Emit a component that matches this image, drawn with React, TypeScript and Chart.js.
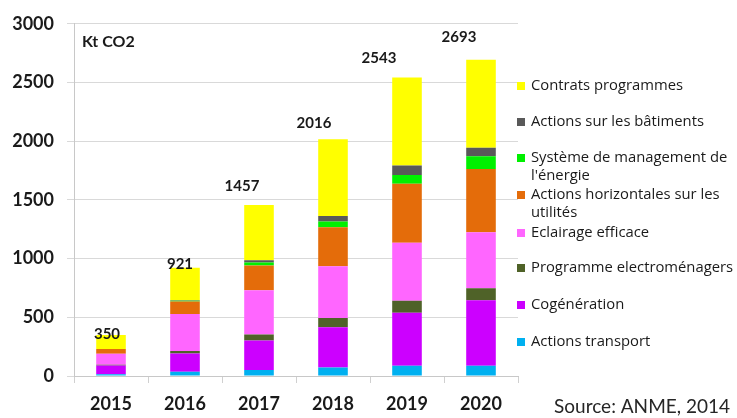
import React, { useEffect, useRef } from "react";
import { Chart, registerables } from "chart.js";

Chart.register(...registerables);

const categories = ["2015", "2016", "2017", "2018", "2019", "2020"];
const actionsTransport = [15, 37, 51, 73, 87, 87];
const cogeneration = [75, 154, 252, 343, 452, 559];
const programmeElectromenagers = [5, 22, 51, 78, 101, 101];
const eclairageEfficace = [95, 315, 376, 441, 495, 478];
const actionsHorizontales = [40, 107, 211, 332, 503, 539];
const systemeManagement = [0, 5, 25, 48, 75, 107];
const actionsBatiments = [0, 5, 20, 47, 79, 73];
const contratsProgrammes = [120, 276, 471, 654, 751, 749];
const totals = [350, 921, 1457, 2016, 2543, 2693];
const yTicks = [0, 500, 1000, 1500, 2000, 2500, 3000];

// pixel offsets for total labels (dx, dy from bar top center)
const labelOffsets: [number, number][] = [
  [-4, 0],
  [-5, -3],
  [-17, -18],
  [-19, -16],
  [-28, -19],
  [-22, -22],
];

const series = [
  { label: "Actions transport", data: actionsTransport, color: "#00B0F0", lines: ["Actions transport"] },
  { label: "Cogénération", data: cogeneration, color: "#CC00FF", lines: ["Cogénération"] },
  { label: "Programme electroménagers", data: programmeElectromenagers, color: "#4F6228", lines: ["Programme electroménagers"] },
  { label: "Eclairage efficace", data: eclairageEfficace, color: "#FF66FF", lines: ["Eclairage efficace"] },
  { label: "Actions horizontales sur les utilités", data: actionsHorizontales, color: "#E46C0A", lines: ["Actions horizontales sur les", "utilités"] },
  { label: "Système de management de l'énergie", data: systemeManagement, color: "#00F000", lines: ["Système de management de", "l'énergie"] },
  { label: "Actions sur les bâtiments", data: actionsBatiments, color: "#595959", lines: ["Actions sur les bâtiments"] },
  { label: "Contrats programmes", data: contratsProgrammes, color: "#FFFF00", lines: ["Contrats programmes"] },
];

// legend y positions (first line center), top to bottom
const legendY = [86, 122, 158, 195, 233, 268, 305, 342];

const FONT = "Lato, 'Open Sans', sans-serif";
const LEGEND_FONT = "'Open Sans', Lato, sans-serif";

const overlayPlugin = {
  id: "overlay",
  afterDatasetsDraw(chart: any) {
    const ctx = chart.ctx;
    const x = chart.scales.x;
    const y = chart.scales.y;
    ctx.save();
    // totals
    ctx.font = `bold 15px ${FONT}`;
    ctx.fillStyle = "#1a1a1a";
    ctx.textAlign = "center";
    ctx.textBaseline = "bottom";
    totals.forEach((t, i) => {
      const [dx, dy] = labelOffsets[i];
      ctx.fillText(String(t), x.getPixelForValue(i) + dx, y.getPixelForValue(t) + dy + 7);
    });
    // unit
    ctx.font = `bold 16px ${FONT}`;
    ctx.textAlign = "left";
    ctx.textBaseline = "middle";
    ctx.fillText("Kt CO2", chart.chartArea.left + 8, 42);
    // legend
    const items = [...series].reverse();
    ctx.font = `14.8px ${LEGEND_FONT}`;
    items.forEach((s, k) => {
      const yy = legendY[k];
      ctx.fillStyle = s.color;
      ctx.fillRect(517, yy - 4, 8, 8);
      ctx.fillStyle = "#1a1a1a";
      s.lines.forEach((ln: string, j: number) => {
        ctx.fillText(ln, 531, yy + j * 18);
      });
    });
    // source
    ctx.font = `19px ${FONT}`;
    ctx.fillStyle = "#262626";
    ctx.textAlign = "right";
    ctx.fillText("Source: ANME, 2014", 730, 407);
    ctx.restore();
  },
};

export default function App() {
  const ref = useRef<HTMLCanvasElement>(null);
  useEffect(() => {
    if (!ref.current) return;
    const chart = new Chart(ref.current, {
      type: "bar",
      data: {
        labels: categories,
        datasets: series.map((s) => ({
          label: s.label,
          data: s.data,
          backgroundColor: s.color,
          borderWidth: 0,
          categoryPercentage: 0.8,
          barPercentage: 0.5,
        })),
      },
      options: {
        animation: false,
        responsive: false,
        maintainAspectRatio: false,
        layout: { padding: { left: 0, top: 20, right: 219, bottom: 0 } },
        plugins: { legend: { display: false }, tooltip: { enabled: false } },
        scales: {
          x: {
            stacked: true,
            afterFit: (s: any) => { s.height = 42; },
            grid: { drawOnChartArea: false, tickLength: 7, color: "#d0d0d0", offset: true },
            border: { color: "#c8c8c8" },
            ticks: { font: { family: FONT, size: 18, weight: "bold" }, color: "#1a1a1a", padding: 10 },
          },
          y: {
            stacked: true,
            min: 0,
            max: 3000,
            afterFit: (s: any) => { s.width = 74; },
            afterBuildTicks: (s: any) => { s.ticks = yTicks.map((v) => ({ value: v })); },
            grid: { color: "#d9d9d9", tickLength: 7 },
            border: { color: "#c8c8c8" },
            ticks: {
              font: { family: FONT, size: 18, weight: "bold" },
              color: "#1a1a1a",
              padding: 13,
              callback: (v: any) => String(v),
            },
          },
        },
      },
      plugins: [overlayPlugin],
    });
    return () => chart.destroy();
  }, []);
  return (
    <div style={{ position: "fixed", left: 0, top: 0, width: 737, height: 418, background: "#fff" }}>
      <canvas ref={ref} width={737} height={418} style={{ width: 737, height: 418 }} />
    </div>
  );
}
